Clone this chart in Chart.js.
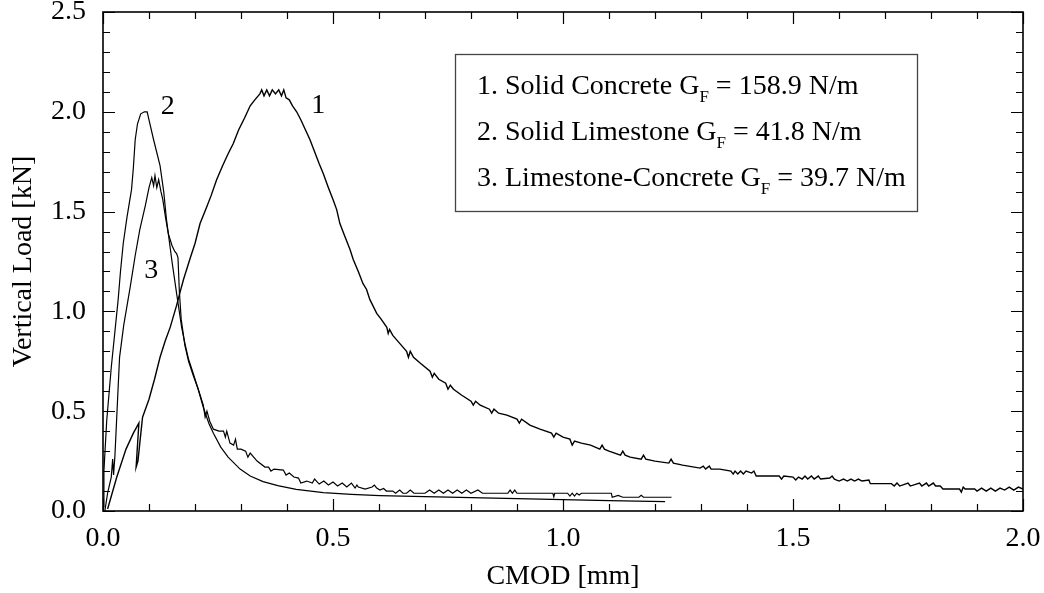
<!DOCTYPE html>
<html>
<head>
<meta charset="utf-8">
<script src="https://cdn.jsdelivr.net/npm/chart.js@4.4.1/dist/chart.umd.min.js"></script>
<style>
  html, body { margin: 0; padding: 0; background: #fff; }
</style>
</head>
<body>
<canvas id="cmod-chart" width="1044" height="593"></canvas>
<script>
// CMOD [mm] vs vertical load [kN]
const solidConcrete = [
  [0.010, 0.01], [0.030, 0.17], [0.050, 0.31], [0.066, 0.39], [0.078, 0.44], [0.072, 0.22],
  [0.076, 0.25], [0.080, 0.34], [0.086, 0.47], [0.100, 0.56], [0.112, 0.66], [0.124, 0.77],
  [0.135, 0.85], [0.146, 0.92], [0.160, 1.03], [0.168, 1.10], [0.175, 1.16], [0.190, 1.27],
  [0.200, 1.34], [0.211, 1.44], [0.225, 1.52], [0.235, 1.58], [0.247, 1.66], [0.260, 1.73],
  [0.272, 1.79], [0.283, 1.84], [0.295, 1.91], [0.308, 1.97], [0.320, 2.03], [0.330, 2.06],
  [0.341, 2.09], [0.345, 2.11], [0.350, 2.08], [0.356, 2.11], [0.362, 2.08], [0.368, 2.11],
  [0.375, 2.09], [0.382, 2.11], [0.388, 2.08], [0.393, 2.11], [0.398, 2.07], [0.405, 2.06],
  [0.412, 2.03], [0.421, 2.00], [0.430, 1.96], [0.440, 1.91], [0.450, 1.86], [0.460, 1.80],
  [0.470, 1.74], [0.479, 1.69], [0.490, 1.62], [0.500, 1.56], [0.508, 1.51], [0.515, 1.44],
  [0.525, 1.38], [0.537, 1.31], [0.544, 1.26], [0.555, 1.20], [0.565, 1.14], [0.573, 1.11],
  [0.580, 1.06], [0.595, 0.99], [0.605, 0.96], [0.617, 0.92], [0.620, 0.89], [0.623, 0.91],
  [0.630, 0.88], [0.645, 0.84], [0.660, 0.80], [0.664, 0.77], [0.668, 0.80], [0.675, 0.77],
  [0.690, 0.74], [0.711, 0.70], [0.716, 0.67], [0.720, 0.69], [0.730, 0.66], [0.745, 0.64],
  [0.750, 0.61], [0.755, 0.63], [0.762, 0.61], [0.780, 0.58], [0.800, 0.55], [0.805, 0.53],
  [0.810, 0.55], [0.820, 0.53], [0.840, 0.51], [0.845, 0.49], [0.850, 0.51], [0.860, 0.49],
  [0.878, 0.48], [0.900, 0.46], [0.905, 0.44], [0.910, 0.46], [0.928, 0.43], [0.950, 0.41],
  [0.975, 0.39], [0.980, 0.37], [0.985, 0.39], [1.000, 0.37], [1.015, 0.36], [1.020, 0.33],
  [1.025, 0.35], [1.040, 0.34], [1.060, 0.33], [1.080, 0.31], [1.085, 0.33], [1.090, 0.31],
  [1.100, 0.30], [1.125, 0.28], [1.130, 0.30], [1.135, 0.28], [1.146, 0.27], [1.170, 0.26],
  [1.175, 0.28], [1.180, 0.26], [1.200, 0.25], [1.230, 0.24], [1.235, 0.26], [1.240, 0.24],
  [1.260, 0.23], [1.298, 0.215], [1.305, 0.225], [1.310, 0.21], [1.318, 0.225], [1.322, 0.21],
  [1.341, 0.21], [1.365, 0.20], [1.370, 0.185], [1.374, 0.20], [1.380, 0.185], [1.386, 0.20],
  [1.392, 0.185], [1.398, 0.20], [1.410, 0.19], [1.415, 0.20], [1.420, 0.175], [1.470, 0.175],
  [1.475, 0.16], [1.480, 0.175], [1.500, 0.17], [1.506, 0.155], [1.512, 0.17], [1.520, 0.16],
  [1.526, 0.175], [1.532, 0.16], [1.540, 0.175], [1.546, 0.16], [1.555, 0.175], [1.560, 0.16],
  [1.580, 0.165], [1.585, 0.175], [1.590, 0.16], [1.600, 0.15], [1.610, 0.16], [1.618, 0.15],
  [1.626, 0.16], [1.634, 0.15], [1.642, 0.16], [1.650, 0.15], [1.665, 0.155], [1.668, 0.137],
  [1.714, 0.137], [1.720, 0.125], [1.726, 0.14], [1.732, 0.125], [1.750, 0.14], [1.755, 0.125],
  [1.775, 0.14], [1.780, 0.125], [1.790, 0.14], [1.795, 0.125], [1.805, 0.14], [1.810, 0.125],
  [1.820, 0.125], [1.826, 0.11], [1.862, 0.11], [1.866, 0.095], [1.870, 0.12], [1.874, 0.11],
  [1.895, 0.11], [1.900, 0.10], [1.910, 0.115], [1.920, 0.10], [1.930, 0.115], [1.940, 0.10],
  [1.950, 0.115], [1.960, 0.105], [1.970, 0.12], [1.980, 0.105], [1.990, 0.12], [2.000, 0.11]
];

const solidLimestone = [
  [0.000, 0.02], [0.002, 0.20], [0.008, 0.45], [0.018, 0.72], [0.033, 1.06], [0.038, 1.20],
  [0.044, 1.34], [0.052, 1.47], [0.062, 1.61], [0.066, 1.72], [0.070, 1.86], [0.075, 1.94],
  [0.082, 1.99], [0.090, 2.00], [0.096, 2.00], [0.100, 1.96], [0.110, 1.86], [0.124, 1.73],
  [0.132, 1.60], [0.138, 1.46], [0.150, 1.25], [0.160, 1.09], [0.171, 0.92], [0.178, 0.84],
  [0.186, 0.76], [0.196, 0.69], [0.207, 0.61], [0.218, 0.52], [0.230, 0.44], [0.240, 0.39],
  [0.256, 0.32], [0.272, 0.27], [0.298, 0.21], [0.320, 0.175], [0.348, 0.147], [0.380, 0.127],
  [0.420, 0.108], [0.479, 0.092], [0.540, 0.083], [0.602, 0.077], [0.700, 0.072], [0.800, 0.067],
  [0.900, 0.062], [1.000, 0.057], [1.100, 0.052], [1.222, 0.047]
];

const limestoneConcrete = [
  [0.004, 0.00], [0.010, 0.09], [0.018, 0.17], [0.021, 0.26], [0.023, 0.18], [0.026, 0.28],
  [0.036, 0.77], [0.045, 0.93], [0.059, 1.12], [0.070, 1.28], [0.080, 1.41], [0.092, 1.53],
  [0.100, 1.62], [0.106, 1.67], [0.110, 1.63], [0.113, 1.68], [0.117, 1.62], [0.121, 1.66],
  [0.126, 1.60], [0.130, 1.56], [0.136, 1.47], [0.142, 1.39], [0.150, 1.33], [0.156, 1.30],
  [0.160, 1.29], [0.163, 1.27], [0.166, 1.10], [0.170, 0.96], [0.178, 0.83], [0.186, 0.75],
  [0.196, 0.68], [0.207, 0.61], [0.218, 0.53], [0.222, 0.47], [0.226, 0.50], [0.232, 0.45],
  [0.240, 0.41], [0.252, 0.40], [0.262, 0.40], [0.266, 0.37], [0.269, 0.40], [0.276, 0.34],
  [0.284, 0.33], [0.288, 0.36], [0.292, 0.31], [0.300, 0.31], [0.310, 0.30], [0.315, 0.27],
  [0.320, 0.29], [0.335, 0.25], [0.352, 0.22], [0.360, 0.22], [0.365, 0.20], [0.372, 0.21],
  [0.392, 0.205], [0.398, 0.18], [0.405, 0.19], [0.415, 0.17], [0.425, 0.165], [0.430, 0.14],
  [0.443, 0.15], [0.455, 0.14], [0.460, 0.16], [0.470, 0.135], [0.480, 0.15], [0.490, 0.13],
  [0.500, 0.145], [0.510, 0.125], [0.520, 0.14], [0.530, 0.12], [0.540, 0.14], [0.548, 0.115],
  [0.552, 0.13], [0.555, 0.12], [0.570, 0.11], [0.585, 0.12], [0.590, 0.13], [0.595, 0.115],
  [0.602, 0.105], [0.610, 0.113], [0.616, 0.100], [0.630, 0.100], [0.636, 0.089], [0.645, 0.105],
  [0.652, 0.089], [0.660, 0.089], [0.668, 0.105], [0.676, 0.089], [0.700, 0.089], [0.710, 0.105],
  [0.720, 0.089], [0.730, 0.105], [0.740, 0.089], [0.750, 0.105], [0.760, 0.089], [0.770, 0.105],
  [0.780, 0.089], [0.790, 0.105], [0.800, 0.089], [0.815, 0.105], [0.825, 0.089], [0.880, 0.089],
  [0.885, 0.105], [0.890, 0.089], [0.895, 0.105], [0.900, 0.089], [0.978, 0.089], [0.980, 0.072],
  [0.982, 0.089], [1.010, 0.089], [1.015, 0.075], [1.020, 0.089], [1.025, 0.075], [1.030, 0.089],
  [1.035, 0.080], [1.040, 0.089], [1.105, 0.089], [1.107, 0.069], [1.120, 0.078], [1.130, 0.069],
  [1.165, 0.069], [1.170, 0.079], [1.175, 0.069], [1.236, 0.069]
];

const xTicks = ['0.0', '0.5', '1.0', '1.5', '2.0'];
const yTicks = ['0.0', '0.5', '1.0', '1.5', '2.0', '2.5'];

const legendNames = ['1. Solid Concrete', '2. Solid Limestone', '3. Limestone-Concrete'];
const fractureEnergy = ['158.9', '41.8', '39.7'];

const serif = '"Liberation Serif", "Times New Roman", serif';

// inward ticks on all four sides, the frame, curve numbers and the text box
const frameAndNotes = {
  id: 'frameAndNotes',
  afterDatasetsDraw(chart) {
    const { ctx, chartArea: a, scales: { x, y } } = chart;
    ctx.save();
    ctx.strokeStyle = '#000';
    ctx.lineWidth = 1.2;
    ctx.beginPath();
    for (let i = 0; i <= 20; i++) {
      const px = Math.round(x.getPixelForValue(i / 10)) + 0.5;
      const len = i % 5 === 0 ? 12 : 7;
      ctx.moveTo(px, a.bottom); ctx.lineTo(px, a.bottom - len);
      ctx.moveTo(px, a.top); ctx.lineTo(px, a.top + len);
    }
    for (let i = 0; i <= 25; i++) {
      const py = Math.round(y.getPixelForValue(i / 10)) + 0.5;
      const len = i % 5 === 0 ? 12 : 7;
      ctx.moveTo(a.left, py); ctx.lineTo(a.left + len, py);
      ctx.moveTo(a.right, py); ctx.lineTo(a.right - len, py);
    }
    ctx.stroke();
    ctx.lineWidth = 1.6;
    ctx.strokeRect(a.left, a.top, a.right - a.left, a.bottom - a.top);

    ctx.fillStyle = '#000';
    ctx.font = '28px ' + serif;
    ctx.textAlign = 'center';
    ctx.textBaseline = 'alphabetic';
    ctx.fillText('1', x.getPixelForValue(0.468), y.getPixelForValue(1.995));
    ctx.fillText('2', x.getPixelForValue(0.141), y.getPixelForValue(1.99));
    ctx.fillText('3', x.getPixelForValue(0.105), y.getPixelForValue(1.165));

    // text box
    ctx.strokeStyle = '#444';
    ctx.lineWidth = 1.3;
    ctx.strokeRect(455.5, 54.5, 462, 157);
    ctx.textAlign = 'left';
    legendNames.forEach((name, i) => {
      const base = 94 + i * 46;
      let tx = 477;
      ctx.font = '28px ' + serif;
      const head = name + ' G';
      ctx.fillText(head, tx, base);
      tx += ctx.measureText(head).width;
      ctx.font = '17px ' + serif;
      ctx.fillText('F', tx, base + 8);
      tx += ctx.measureText('F').width;
      ctx.font = '28px ' + serif;
      ctx.fillText(' = ' + fractureEnergy[i] + ' N/m', tx, base);
    });
    ctx.restore();
  }
};

const toPoints = (rows) => rows.map(([x, y]) => ({ x, y }));

const lineStyle = {
  borderColor: '#000',
  borderWidth: 1.2,
  pointRadius: 0,
  showLine: true,
  tension: 0,
  fill: false
};

Chart.defaults.font.family = serif;
Chart.defaults.font.size = 28;
Chart.defaults.color = '#000';

const ctx = document.getElementById('cmod-chart').getContext('2d');
const chart = new Chart(ctx, {
  type: 'scatter',
  data: {
    datasets: [
      { label: 'Solid Concrete', data: toPoints(solidConcrete), ...lineStyle, borderWidth: 1.4 },
      { label: 'Solid Limestone', data: toPoints(solidLimestone), ...lineStyle },
      { label: 'Limestone-Concrete', data: toPoints(limestoneConcrete), ...lineStyle }
    ]
  },
  options: {
    responsive: false,
    animation: false,
    layout: { padding: { top: 12, right: 21, left: 0, bottom: 0 } },
    plugins: { legend: { display: false }, tooltip: { enabled: false } },
    scales: {
      x: {
        type: 'linear',
        min: 0,
        max: 2,
        grid: { display: false, drawTicks: false },
        border: { display: false },
        afterBuildTicks: (scale) => { scale.ticks = xTicks.map((t) => ({ value: parseFloat(t) })); },
        ticks: { padding: 11, maxRotation: 0, callback: (v) => xTicks.find((t) => parseFloat(t) === v) },
        title: { display: true, text: 'CMOD [mm]', padding: { top: 0, bottom: 0 } },
        afterFit: (scale) => { scale.height = 82; scale.paddingLeft = 0; scale.paddingRight = 0; }
      },
      y: {
        type: 'linear',
        min: 0,
        max: 2.5,
        grid: { display: false, drawTicks: false },
        border: { display: false },
        afterBuildTicks: (scale) => { scale.ticks = yTicks.map((t) => ({ value: parseFloat(t) })); },
        ticks: { padding: 17, callback: (v) => yTicks.find((t) => parseFloat(t) === v) },
        title: { display: true, text: 'Vertical Load [kN]', padding: { top: 7, bottom: 0 } },
        afterFit: (scale) => { scale.width = 103; scale.paddingTop = 0; scale.paddingBottom = 0; }
      }
    }
  },
  plugins: [frameAndNotes]
});
</script>
</body>
</html>
